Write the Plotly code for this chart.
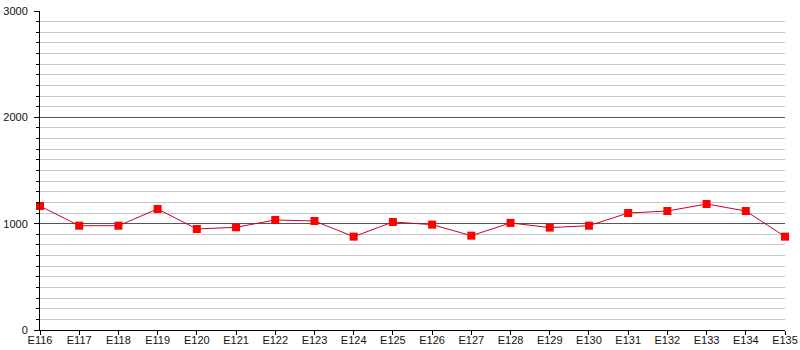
import plotly.graph_objects as go

categories = ["E116", "E117", "E118", "E119", "E120", "E121", "E122", "E123", "E124", "E125",
              "E126", "E127", "E128", "E129", "E130", "E131", "E132", "E133", "E134", "E135"]
values = [1166, 981, 981, 1138, 950, 966, 1035, 1025, 878, 1016,
          991, 887, 1007, 963, 981, 1100, 1119, 1185, 1119, 878]
y_ticks = [0, 1000, 2000, 3000]

fig = go.Figure()
fig.add_trace(go.Scatter(
    x=list(range(len(categories))), y=values, mode="lines+markers",
    line=dict(color="#cc0022", width=1),
    marker=dict(symbol="square", size=8, color="#ff0000", line=dict(width=0)),
    cliponaxis=False, showlegend=False,
))

fig.update_layout(
    width=800, height=350,
    margin=dict(l=40, r=15, t=11, b=20),
    paper_bgcolor="white", plot_bgcolor="white",
    font=dict(family="Liberation Sans, Arial, sans-serif", size=11, color="#111111"),
    xaxis=dict(
        automargin=False,
        range=[0, len(categories) - 1],
        tickmode="array", tickvals=list(range(len(categories))), ticktext=categories,
        showgrid=False, zeroline=False,
        showline=True, linecolor="#000000", linewidth=1,
        ticks="outside", ticklen=4, tickcolor="#000000", tickwidth=1,
        ticklabelstandoff=-4,
        tickfont=dict(size=11, color="#111111"),
    ),
    yaxis=dict(
        automargin=False,
        range=[0, 3000],
        tickmode="array", tickvals=y_ticks, ticktext=[str(v) for v in y_ticks],
        showgrid=True, gridcolor="#555555", gridwidth=1,
        zeroline=False,
        showline=True, linecolor="#000000", linewidth=1,
        ticks="outside", ticklen=5, tickcolor="#000000", tickwidth=1,
        ticklabelstandoff=4,
        tickfont=dict(size=11, color="#111111"),
        minor=dict(dtick=100, showgrid=True, gridcolor="#c8c8c8", gridwidth=1,
                   ticks="outside", ticklen=3, tickcolor="#000000"),
    ),
)

fig.write_html("out.html")
